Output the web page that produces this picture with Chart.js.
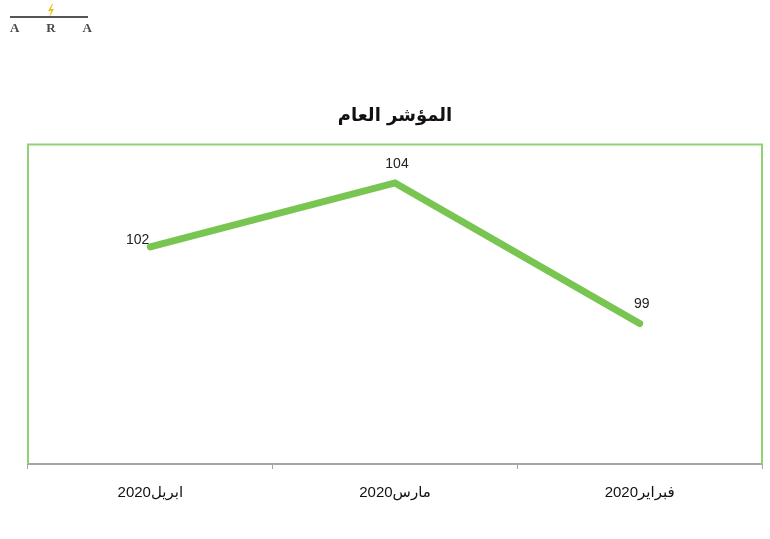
<!DOCTYPE html>
<html>
<head>
<meta charset="utf-8">
<script src="https://cdn.jsdelivr.net/npm/chart.js@4"></script>
<style>
  html,body{margin:0;padding:0;background:#fff;}
  #wrap{position:relative;width:770px;height:539px;}
  #logo{position:absolute;left:8px;top:4px;width:84px;height:32px;}
  #logo .bar{position:absolute;left:2px;top:12px;width:78px;height:2px;background:#555;}
  #logo .txt{position:absolute;left:2px;top:16px;width:82px;display:flex;justify-content:space-between;
    font:bold 13px "Liberation Serif",serif;color:#4a4a4a;}
  #logo svg{position:absolute;left:38px;top:0;}
</style>
</head>
<body>
<div id="wrap">
  <canvas id="c" width="770" height="539"></canvas>
  <div id="logo">
    <svg width="10" height="14" viewBox="0 0 10 14"><polygon points="6,0 2,7 5,7 3,14 8,5 5,5 7,0" fill="#f2c21b"/></svg>
    <div class="bar"></div>
    <div class="txt"><span>A</span><span>R</span><span>A</span></div>
  </div>
</div>
<script>
const titleText = 'المؤشر العام';
const months = ['2020ابريل', '2020مارس', '2020فبراير'];
const values = [101.8, 103.8, 99.4];

const green = '#78c552';

const frame = {
  id: 'frame',
  beforeDatasetsDraw(chart){
    const {ctx, chartArea:a} = chart;
    ctx.save();
    ctx.strokeStyle = '#8fd175';
    ctx.lineWidth = 2;
    ctx.beginPath();
    ctx.moveTo(a.left, a.bottom);
    ctx.lineTo(a.left, a.top);
    ctx.lineTo(a.right, a.top);
    ctx.lineTo(a.right, a.bottom);
    ctx.stroke();
    ctx.restore();
  }
};

const valueLabels = {
  id: 'valueLabels',
  afterDatasetsDraw(chart){
    const {ctx} = chart;
    const meta = chart.getDatasetMeta(0);
    ctx.save();
    ctx.font = '14px "Liberation Sans", Arial, sans-serif';
    ctx.fillStyle = '#222';
    ctx.textBaseline = 'middle';
    meta.data.forEach((p, i) => {
      const txt = String(Math.round(values[i]));
      if(i === 0){
        ctx.textAlign = 'right';
        ctx.fillText(txt, p.x - 1, p.y - 7);
      }else{
        ctx.textAlign = 'center';
        ctx.fillText(txt, p.x + 2, p.y - 19);
      }
    });
    ctx.restore();
  }
};

new Chart(document.getElementById('c'), {
  type: 'line',
  data: {
    labels: months,
    datasets: [{
      data: values,
      borderColor: green,
      borderWidth: 7,
      borderCapStyle: 'round',
      borderJoinStyle: 'miter',
      pointRadius: 0,
      tension: 0,
      fill: false
    }]
  },
  options: {
    responsive: false,
    animation: false,
    layout: {padding: {left: 28, right: 8, top: 0, bottom: 22}},
    plugins: {
      legend: {display: false},
      tooltip: {enabled: false},
      title: {
        display: true,
        text: titleText,
        color: '#111',
        font: {family: '"DejaVu Sans", sans-serif', size: 18, weight: 'bold'},
        padding: {top: 106, bottom: 17}
      }
    },
    scales: {
      x: {
        offset: true,
        border: {display: true, color: '#a6a6a6', width: 2},
        grid: {display: true, offset: true, drawOnChartArea: false, color: '#a6a6a6', tickLength: 5, lineWidth: 1},
        ticks: {color: '#111', font: {family: '"Liberation Sans", "DejaVu Sans", sans-serif', size: 15}, padding: 15, maxRotation: 0}
      },
      y: {
        display: false,
        min: 95,
        max: 105
      }
    }
  },
  plugins: [frame, valueLabels]
});
</script>
</body>
</html>
